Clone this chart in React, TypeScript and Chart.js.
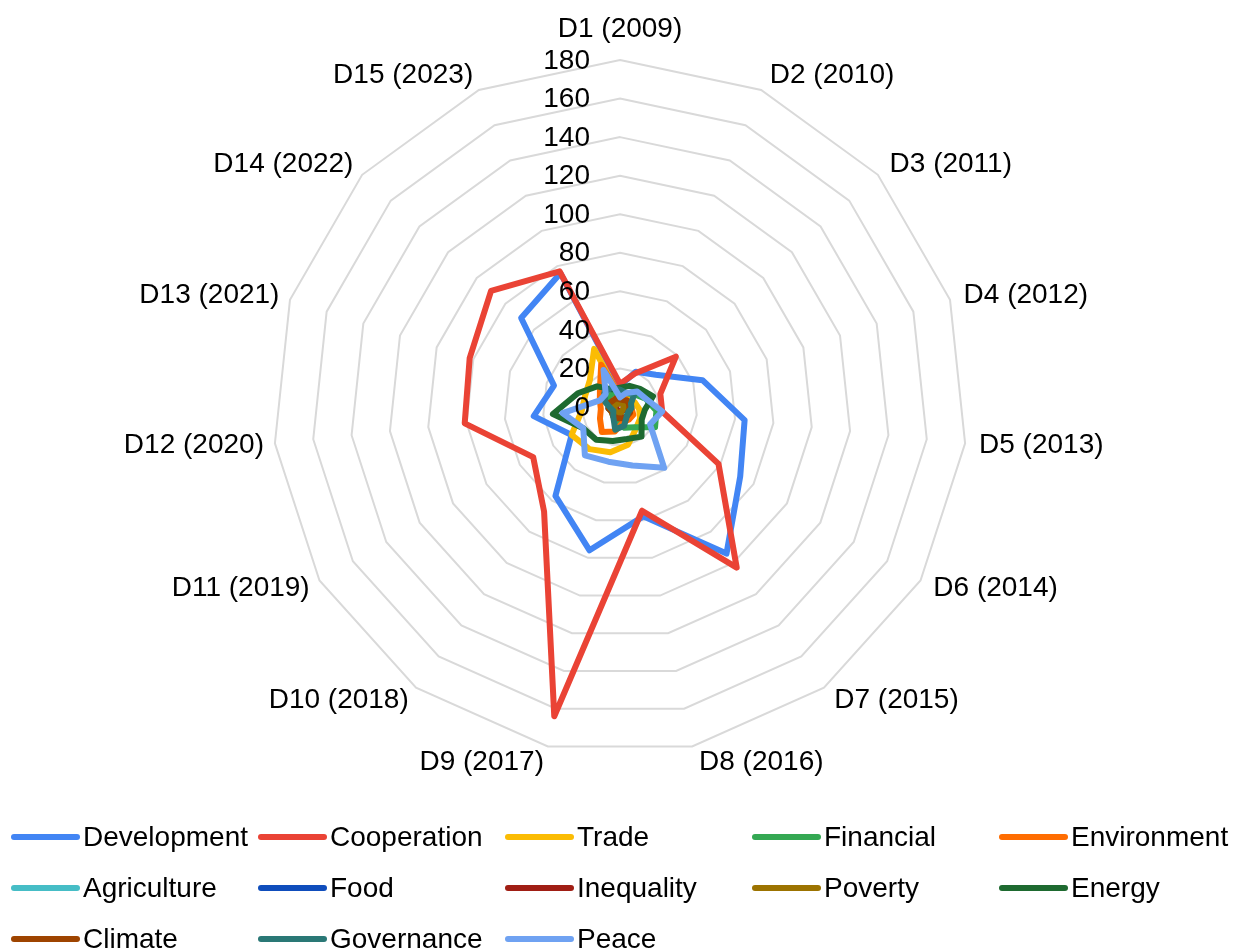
import React, { useEffect, useRef } from 'react';
import { Chart, registerables } from 'chart.js';

Chart.register(...registerables);

const CATEGORIES = [
  'D1 (2009)', 'D2 (2010)', 'D3 (2011)', 'D4 (2012)', 'D5 (2013)',
  'D6 (2014)', 'D7 (2015)', 'D8 (2016)', 'D9 (2017)', 'D10 (2018)',
  'D11 (2019)', 'D12 (2020)', 'D13 (2021)', 'D14 (2022)', 'D15 (2023)',
];

const TICK_VALUES = [0, 20, 40, 60, 80, 100, 120, 140, 160, 180];

const SERIES_NAMES = [
  'Development', 'Cooperation', 'Trade', 'Financial', 'Environment',
  'Agriculture', 'Food', 'Inequality', 'Poverty', 'Energy',
  'Climate', 'Governance', 'Peace',
];

const SERIES_COLORS = [
  '#4285F4', '#EA4335', '#FBBC04', '#34A853', '#FF6D01',
  '#46BDC6', '#0F4DBC', '#A01E14', '#9C7300', '#1E6A30',
  '#9E4400', '#2A7876', '#6FA2F2',
];

const development = [11, 20, 25, 45, 65, 72, 94, 58, 76, 57, 29, 45, 36, 69, 76];
const cooperation = [12, 19, 39, 22, 22, 59, 103, 55, 164, 67, 52, 81, 82, 90, 77];
const trade = [5, 5, 6, 8, 10, 12, 14, 20, 24, 27, 29, 20, 19, 21, 33];
const financial = [6, 8, 10, 14, 19, 21, 13, 11, 8, 6, 5, 6, 6, 8, 8];
const environment = [6, 5, 5, 5, 6, 8, 8, 8, 13, 16, 12, 10, 11, 14, 24];
const agriculture = [3, 3, 4, 4, 5, 5, 4, 4, 5, 5, 4, 5, 4, 3, 3];
const food = [2, 2, 3, 3, 3, 3, 2, 2, 3, 3, 3, 6, 3, 2, 2];
const inequality = [2, 2, 2, 3, 3, 3, 2, 2, 2, 2, 2, 3, 3, 2, 2];
const poverty = [2, 2, 2, 2, 2, 2, 2, 3, 3, 3, 3, 3, 3, 2, 2];
const energy = [10, 12, 14, 18, 13, 13, 19, 17, 18, 21, 22, 35, 23, 16, 10];
const climate = [4, 4, 5, 5, 5, 6, 6, 6, 6, 6, 5, 6, 6, 5, 5];
const governance = [9, 8, 10, 6, 6, 5, 6, 10, 12, 6, 4, 5, 8, 11, 11];
const peace = [5, 8, 12, 14, 22, 18, 39, 31, 29, 31, 22, 30, 11, 10, 21];

const SERIES_VALUES = [
  development, cooperation, trade, financial, environment,
  agriculture, food, inequality, poverty, energy,
  climate, governance, peace,
];

const FONT = '"Liberation Sans", Arial, sans-serif';

export default function App() {
  const canvasRef = useRef<HTMLCanvasElement | null>(null);

  useEffect(() => {
    const canvas = canvasRef.current;
    if (!canvas) return;

    const labelsPlugin = {
      id: 'customLabels',
      afterDatasetsDraw(chart: any) {
        const scale = chart.scales.r;
        const ctx = chart.ctx as CanvasRenderingContext2D;
        ctx.save();
        ctx.font = `28px ${FONT}`;
        ctx.fillStyle = '#000';
        ctx.textBaseline = 'middle';

        // tick labels, left of the vertical axis
        ctx.textAlign = 'right';
        TICK_VALUES.forEach((v) => {
          const d = scale.getDistanceFromCenterForValue(v);
          ctx.fillText(String(v), scale.xCenter - 30, scale.yCenter - d + 1);
        });

        // point labels
        const n = CATEGORIES.length;
        CATEGORIES.forEach((label, i) => {
          const p = scale.getPointPosition(i, scale.drawingArea + 9);
          const ang = (i * 2 * Math.PI) / n;
          const s = Math.sin(ang);
          const c = Math.cos(ang);
          let x = p.x;
          let y = p.y;
          if (Math.abs(s) < 0.01) {
            ctx.textAlign = 'center';
            y = p.y - 22;
          } else {
            ctx.textAlign = s > 0 ? 'left' : 'right';
            x += s > 0 ? 5 : -2;
            y = p.y - 7 * c;
          }
          ctx.fillText(label, x, y);
        });
        ctx.restore();
      },
      afterDraw(chart: any) {
        const ctx = chart.ctx as CanvasRenderingContext2D;
        const area = chart.chartArea;
        ctx.save();
        ctx.font = `28px ${FONT}`;
        ctx.textBaseline = 'middle';
        ctx.textAlign = 'left';
        const cols = 5;
        const colW = 247;
        const rowH = 51;
        const x0 = 11;
        const y0 = area.bottom + 83;
        SERIES_NAMES.forEach((name, i) => {
          const col = i % cols;
          const row = Math.floor(i / cols);
          const x = x0 + col * colW;
          const y = y0 + row * rowH;
          ctx.strokeStyle = SERIES_COLORS[i];
          ctx.lineWidth = 6;
          ctx.lineCap = 'round';
          ctx.beginPath();
          ctx.moveTo(x + 3, y);
          ctx.lineTo(x + 66, y);
          ctx.stroke();
          ctx.fillStyle = '#000';
          ctx.fillText(name, x + 72, y + 1);
        });
        ctx.restore();
      },
    };

    const chart = new Chart(canvas, {
      type: 'radar',
      data: {
        labels: CATEGORIES,
        datasets: SERIES_NAMES.map((name, i) => ({
          label: name,
          data: SERIES_VALUES[i],
          borderColor: SERIES_COLORS[i],
          backgroundColor: SERIES_COLORS[i],
          borderWidth: 6,
          borderJoinStyle: 'round' as const,
          borderCapStyle: 'round' as const,
          fill: false,
          pointRadius: 0,
          pointHoverRadius: 0,
          tension: 0,
          order: -i,
        })),
      },
      options: {
        responsive: false,
        animation: false,
        devicePixelRatio: 1,
        layout: { padding: { top: 60, bottom: 197, left: 120, right: 116 } },
        plugins: {
          legend: { display: false },
          tooltip: { enabled: false },
        },
        scales: {
          r: {
            min: TICK_VALUES[0],
            max: TICK_VALUES[TICK_VALUES.length - 1],
            afterBuildTicks: (scale: any) => {
              scale.ticks = TICK_VALUES.map((v) => ({ value: v }));
            },
            ticks: { display: false, stepSize: 20 },
            pointLabels: { display: false },
            angleLines: { display: false },
            grid: { color: '#D9D9D9', lineWidth: 2 },
          },
        },
      },
      plugins: [labelsPlugin],
    } as any);

    return () => chart.destroy();
  }, []);

  return (
    <div style={{ position: 'fixed', left: 0, top: 0, width: 1236, height: 951, background: '#fff' }}>
      <canvas ref={canvasRef} width={1236} height={951} style={{ width: 1236, height: 951, display: 'block' }} />
    </div>
  );
}
